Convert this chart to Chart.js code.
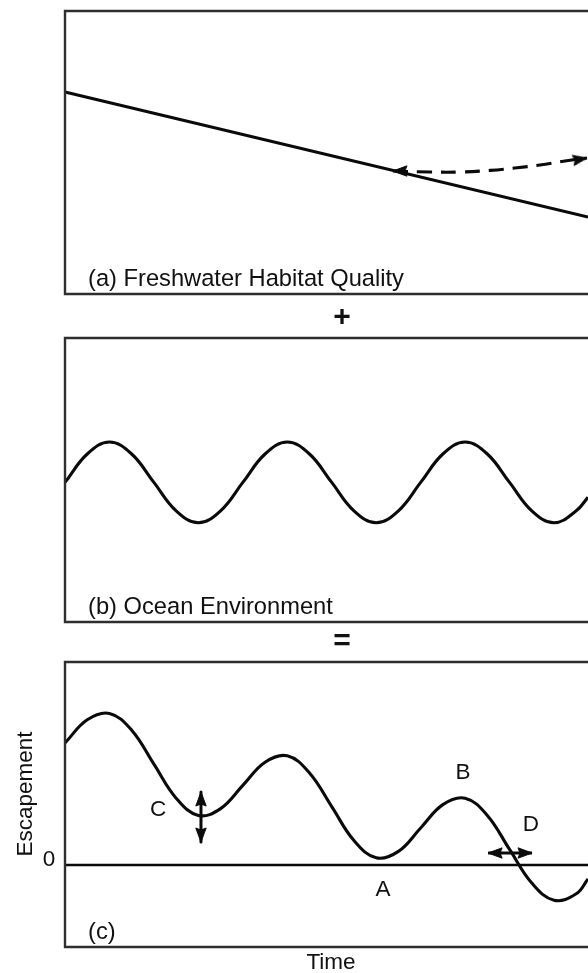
<!DOCTYPE html>
<html><head><meta charset="utf-8">
<script src="https://cdn.jsdelivr.net/npm/chart.js@4.4.0/dist/chart.umd.min.js"></script>
<style>
html,body{margin:0;padding:0;background:#fff;}
#wrap{position:relative;width:588px;height:973px;overflow:hidden;background:#fff;}
canvas{position:absolute;left:0;}
</style></head><body>
<div id="wrap">
<canvas id="ca" width="588" height="330" style="top:0px"></canvas>
<canvas id="cb" width="588" height="325" style="top:330px"></canvas>
<canvas id="cc" width="588" height="318" style="top:655px"></canvas>
</div>
<script>
// ---------- data (time in arbitrary units 0..100) ----------
const habitatTime = [0, 100];
const habitatQuality = [50.5, 19.25];
const restoredTime = [62.7, 69.8, 75.5, 81.3, 86.0, 90.8, 95.6, 99.8];
const restoredQuality = [30.75, 30.5, 30.5, 30.9, 31.5, 32.25, 33.25, 34.0];

const oceanTime = [0, 4.25, 8.5, 12.75, 17, 21.25, 25.5, 29.75, 34, 38.25, 42.5, 46.75, 51, 55.25, 59.5, 63.75, 68, 72.25, 76.5, 80.75, 85, 89.25, 93.5, 97.75, 100];
const oceanValue = [34.9, 42.0, 45.0, 42.0, 34.9, 27.8, 24.8, 27.8, 34.9, 42.0, 45.0, 42.0, 34.9, 27.8, 24.8, 27.8, 34.9, 42.0, 45.0, 42.0, 34.9, 27.8, 24.8, 27.8, 31.2];

const escTime = [0, 4.25, 8.5, 12.75, 17, 21.25, 25.5, 29.75, 34, 38.25, 42.5, 46.75, 51, 55.25, 59.5, 63.75, 68, 72.25, 76.5, 80.75, 85, 89.25, 93.5, 97.75, 100];
const escValue = [30.5, 36.3, 37.9, 33.7, 25.2, 16.7, 12.4, 14.1, 19.9, 25.7, 27.3, 23.0, 14.6, 6.1, 1.8, 3.4, 9.25, 15.1, 16.7, 12.4, 3.9, -4.5, -8.8, -7.2, -3.5];

const zeroTime = [0, 100];
const zeroValue = [0, 0];
const arrowCTime = [26.0, 26.0];
const arrowCValue = [18.25, 5.75];
const arrowDTime = [80.9, 89.3];
const arrowDValue = [3.0, 3.0];

const letterText = ['A', 'B', 'C', 'D'];
const letterTime = [60.8, 76.1, 17.8, 89.1];
const letterValue = [-6.25, 23.0, 13.75, 10.0];

const panelLabels = ['(a) Freshwater Habitat Quality', '(b) Ocean Environment', '(c)'];
const xTitle = 'Time';
const yTitle = 'Escapement';
const zeroLabel = '0';
const plusSign = '+';
const equalSign = '=';

// ---------- drawing ----------
const FONT = '"Liberation Sans", Arial, Helvetica, sans-serif';
const INK = '#0a0a0a';

function makeHead() {
  const c = document.createElement('canvas');
  c.width = 18; c.height = 34;
  const g = c.getContext('2d');
  g.fillStyle = INK;
  g.beginPath();
  g.moveTo(9, 17);
  g.lineTo(14.2, 31);
  g.lineTo(9, 29);
  g.lineTo(3.8, 31);
  g.closePath();
  g.fill();
  g.strokeStyle = INK;
  g.lineWidth = 1;
  g.lineJoin = 'round';
  g.stroke();
  return c;
}
const HEAD = makeHead();

function pts(xs, ys) { return xs.map((x, i) => ({ x: x, y: ys[i] })); }
function endRadius(xs) { return xs.map((_, i) => (i === 0 || i === xs.length - 1) ? 6 : 0); }

function lineDs(xs, ys, extra) {
  return Object.assign({
    data: pts(xs, ys),
    showLine: true,
    borderColor: INK,
    borderWidth: 3.1,
    pointRadius: 0,
    pointHoverRadius: 0,
    tension: 0.4,
    borderJoinStyle: 'round',
    clip: false
  }, extra || {});
}

function arrowDs(xs, ys, rot, extra) {
  return lineDs(xs, ys, Object.assign({
    tension: 0,
    borderWidth: 3,
    pointStyle: HEAD,
    pointRadius: endRadius(xs),
    pointRotation: rot
  }, extra || {}));
}

function makeChart(id, datasets, yMin, yMax, padTop, padBottom, label, extra) {
  const decor = {
    id: 'decor' + id,
    afterDatasetsDraw(chart) {
      const ctx = chart.ctx, a = chart.chartArea;
      ctx.save();
      ctx.strokeStyle = '#2e2e2e';
      ctx.lineWidth = 2.4;
      ctx.beginPath();
      ctx.moveTo(a.right + 3, a.top);
      ctx.lineTo(a.left, a.top);
      ctx.lineTo(a.left, a.bottom);
      ctx.lineTo(a.right + 3, a.bottom);
      ctx.stroke();
      ctx.fillStyle = '#111';
      ctx.font = '23.7px ' + FONT;
      ctx.textAlign = 'left';
      ctx.textBaseline = 'alphabetic';
      ctx.fillText(label, a.left + 23, a.bottom - 8);
      if (extra) extra(chart, ctx, a);
      ctx.restore();
    }
  };
  return new Chart(document.getElementById(id), {
    type: 'scatter',
    data: { datasets: datasets },
    options: {
      responsive: false,
      animation: false,
      events: [],
      layout: { autoPadding: false, padding: { left: 65, right: 0, top: padTop, bottom: padBottom } },
      plugins: { legend: { display: false }, tooltip: { enabled: false } },
      scales: {
        x: { type: 'linear', min: 0, max: 100, display: false },
        y: { type: 'linear', min: yMin, max: yMax, display: false }
      }
    },
    plugins: [decor]
  });
}

function bigSign(ctx, s, x, y) {
  ctx.font = 'bold 30px ' + FONT;
  ctx.textAlign = 'center';
  ctx.textBaseline = 'middle';
  ctx.fillText(s, x, y);
}

// Panel (a)
makeChart('ca', [
  lineDs(habitatTime, habitatQuality, { tension: 0 }),
  lineDs(restoredTime, restoredQuality, {
    borderDash: [15, 9],
    pointStyle: HEAD,
    pointRadius: endRadius(restoredTime),
    pointRotation: restoredTime.map((_, i) => i === 0 ? 270 : (i === restoredTime.length - 1 ? 80 : 0))
  })
], 0, 70.75, 11, 36, panelLabels[0], function (chart, ctx, a) {
  bigSign(ctx, plusSign, 342, a.bottom + 24);
});

// Panel (b)
makeChart('cb', [
  lineDs(oceanTime, oceanValue)
], 0, 71, 8, 33, panelLabels[1], function (chart, ctx, a) {
  bigSign(ctx, equalSign, 342, a.bottom + 20);
});

// Panel (c)
makeChart('cc', [
  lineDs(zeroTime, zeroValue, { tension: 0, borderWidth: 2.6 }),
  lineDs(escTime, escValue),
  arrowDs(arrowCTime, arrowCValue, [0, 180]),
  arrowDs(arrowDTime, arrowDValue, [270, 90])
], -20.5, 50.75, 7, 26, panelLabels[2], function (chart, ctx, a) {
  const xs = chart.scales.x, ys = chart.scales.y;
  ctx.font = '22.5px ' + FONT;
  ctx.textAlign = 'center';
  ctx.textBaseline = 'middle';
  letterText.forEach((t, i) => {
    ctx.fillText(t, xs.getPixelForValue(letterTime[i]), ys.getPixelForValue(letterValue[i]));
  });
  ctx.fillText(zeroLabel, a.left - 16, ys.getPixelForValue(0) - 5);
  ctx.fillText(xTitle, 331, a.bottom + 16);
  ctx.save();
  ctx.translate(26, 139);
  ctx.rotate(-Math.PI / 2);
  ctx.fillText(yTitle, 0, 0);
  ctx.restore();
});
</script>
</body></html>
